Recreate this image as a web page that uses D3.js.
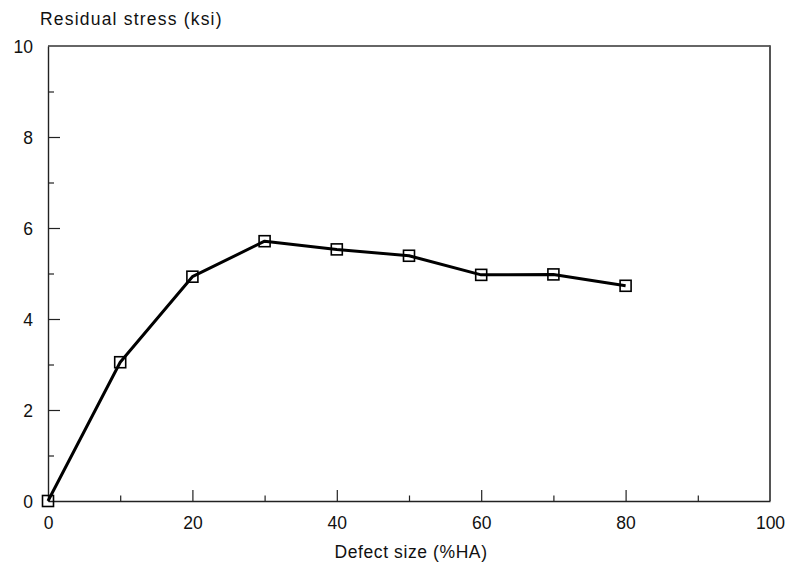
<!DOCTYPE html>
<html>
<head>
<meta charset="utf-8">
<script src="https://cdn.jsdelivr.net/npm/d3@7"></script>
<style>
  html, body { margin: 0; padding: 0; background: #fff; }
  svg { display: block; font-family: "Liberation Sans", Arial, Helvetica, sans-serif; }
</style>
</head>
<body>
<svg id="chart" width="788" height="565"></svg>
<script>
// Residual stress vs. defect size
const defectSize = [0, 10, 20, 30, 40, 50, 60, 70, 80];
const residualStress = [0, 3.05, 4.93, 5.71, 5.53, 5.39, 4.97, 4.98, 4.73];
const xTickLabels = [0, 20, 40, 60, 80, 100];
const yTickLabels = [0, 2, 4, 6, 8, 10];

const plotLeft = 48, plotRight = 770, plotTop = 46, plotBottom = 501;

const svg = d3.select("#chart");

const x = d3.scaleLinear().domain([0, 100]).range([plotLeft, plotRight]);
const y = d3.scaleLinear().domain([0, 10]).range([plotBottom, plotTop]);

// Frame: top and right edges
svg.append("line")
  .attr("x1", plotLeft).attr("x2", plotRight).attr("y1", plotTop).attr("y2", plotTop)
  .attr("stroke", "#333").attr("stroke-width", 1.4);
svg.append("line")
  .attr("x1", plotRight).attr("x2", plotRight).attr("y1", plotTop - 0.7).attr("y2", plotBottom)
  .attr("stroke", "#555").attr("stroke-width", 2);

// Bottom axis, ticks pointing into the plot
const xAxis = d3.axisBottom(x)
  .tickValues(d3.range(0, 101, 10))
  .tickSize(0)
  .tickFormat(d => xTickLabels.includes(d) ? d : "");
const gx = svg.append("g").attr("transform", `translate(0,${plotBottom})`).call(xAxis);
gx.select(".domain").attr("stroke", "#222").attr("stroke-width", 1.4);
gx.selectAll(".tick line")
  .attr("y2", d => (d % 20 === 0 ? -11 : -5.5))
  .attr("stroke", "#222").attr("stroke-width", 1.2)
  .filter(d => d === 0 || d === 100).remove();
gx.selectAll(".tick text")
  .attr("y", 28).attr("dy", null)
  .attr("font-size", 17.5).attr("fill", "#111");

// Left axis, ticks pointing into the plot
const yAxis = d3.axisLeft(y)
  .tickValues(d3.range(0, 11, 1))
  .tickSize(0)
  .tickFormat(d => yTickLabels.includes(d) ? d : "");
const gy = svg.append("g").attr("transform", `translate(${plotLeft},0)`).call(yAxis);
gy.select(".domain").attr("stroke", "#222").attr("stroke-width", 1.4);
gy.selectAll(".tick line")
  .attr("x2", d => (d % 2 === 0 ? 12 : 6))
  .attr("stroke", "#222").attr("stroke-width", 1.2)
  .filter(d => d === 0 || d === 10).remove();
gy.selectAll(".tick text")
  .attr("x", -15)
  .attr("dy", "0.36em")
  .attr("font-size", 17.5).attr("fill", "#111");

// Axis titles
svg.append("text")
  .attr("x", 40).attr("y", 25)
  .attr("font-size", 17.5).attr("letter-spacing", 1.2).attr("fill", "#111")
  .text("Residual stress (ksi)");
svg.append("text")
  .attr("x", 411).attr("y", 558)
  .attr("text-anchor", "middle")
  .attr("font-size", 17.5).attr("letter-spacing", 0.6).attr("fill", "#111")
  .text("Defect size (%HA)");

// Data line
const pts = defectSize.map((d, i) => [d, residualStress[i]]);
svg.append("path")
  .datum(pts)
  .attr("fill", "none")
  .attr("stroke", "#000")
  .attr("stroke-width", 3)
  .attr("stroke-linejoin", "round")
  .attr("d", d3.line().x(d => x(d[0])).y(d => y(d[1])));

// Square markers
const s = 11;
svg.append("g").selectAll("rect")
  .data(pts)
  .join("rect")
  .attr("x", d => x(d[0]) - s / 2)
  .attr("y", d => y(d[1]) - s / 2)
  .attr("width", s).attr("height", s)
  .attr("fill", "none")
  .attr("stroke", "#000")
  .attr("stroke-width", 1.6);
</script>
</body>
</html>
